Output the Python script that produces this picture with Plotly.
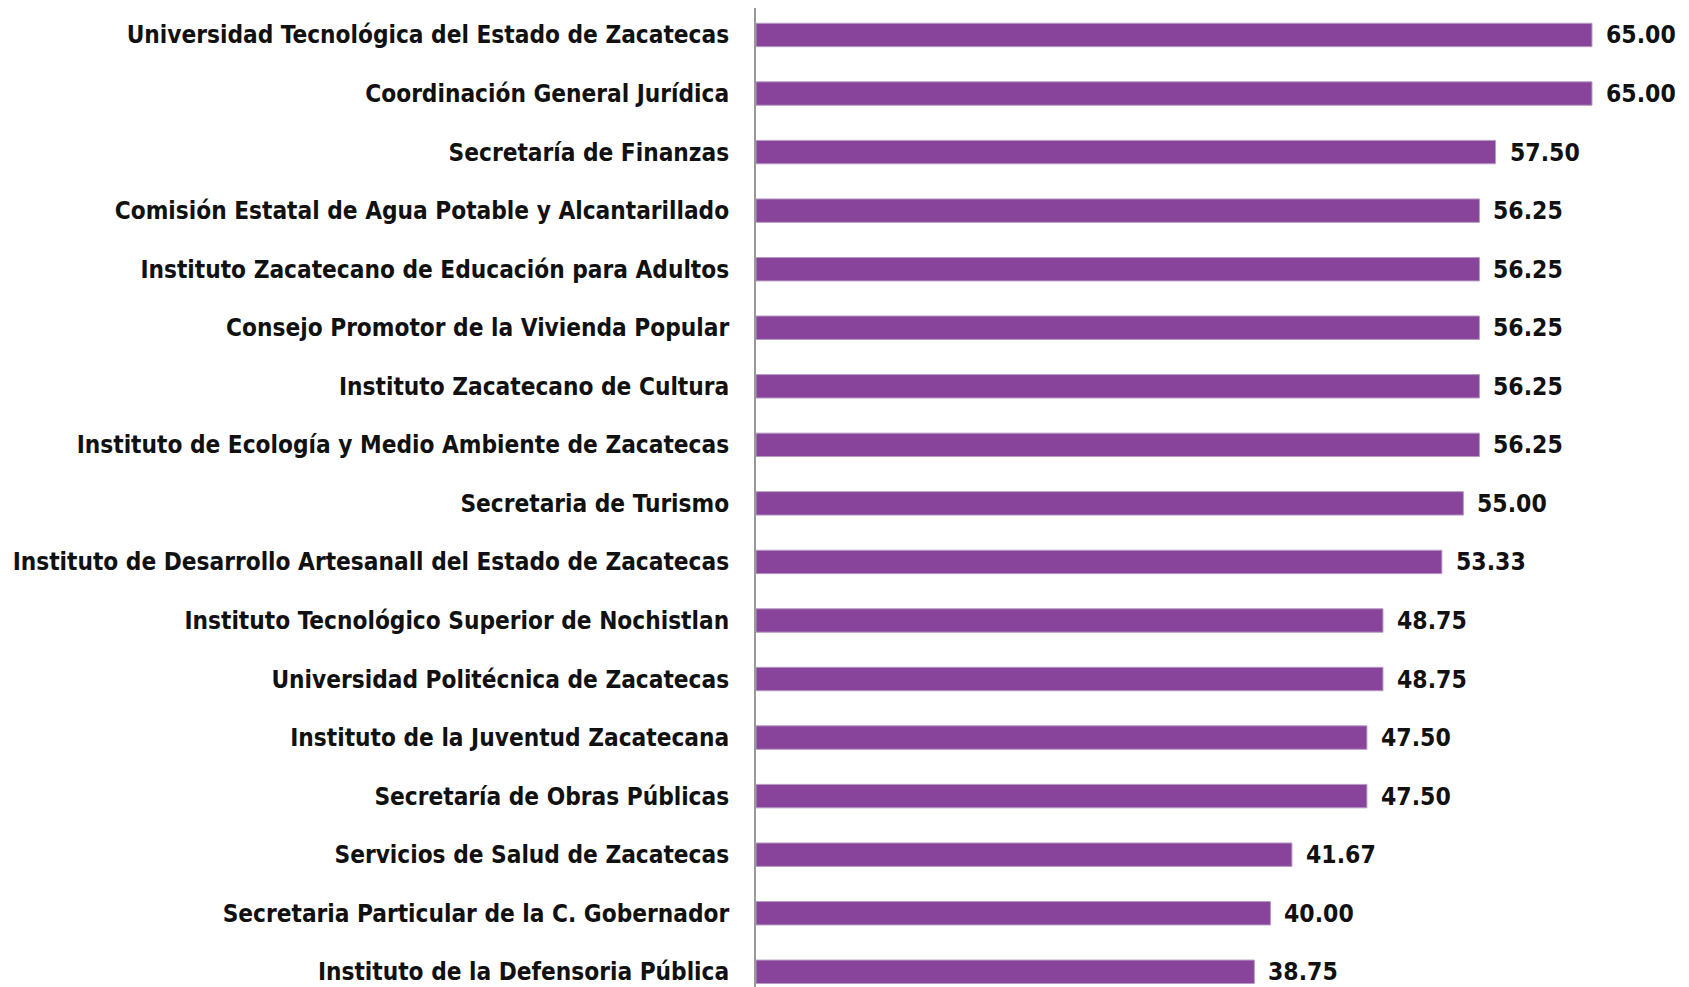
import plotly.graph_objects as go

categories = [
    "Universidad Tecnológica del Estado de Zacatecas",
    "Coordinación General Jurídica",
    "Secretaría de Finanzas",
    "Comisión Estatal de Agua Potable y Alcantarillado",
    "Instituto Zacatecano de Educación para Adultos",
    "Consejo Promotor de la Vivienda Popular",
    "Instituto Zacatecano de Cultura",
    "Instituto de Ecología y Medio Ambiente de Zacatecas",
    "Secretaria de Turismo",
    "Instituto de Desarrollo Artesanall del Estado de Zacatecas",
    "Instituto Tecnológico Superior de Nochistlan",
    "Universidad Politécnica de Zacatecas",
    "Instituto de la Juventud Zacatecana",
    "Secretaría de Obras Públicas",
    "Servicios de Salud de Zacatecas",
    "Secretaria Particular de la C. Gobernador",
    "Instituto de la Defensoria Pública",
]
values = [65.00, 65.00, 57.50, 56.25, 56.25, 56.25, 56.25, 56.25, 55.00,
          53.33, 48.75, 48.75, 47.50, 47.50, 41.67, 40.00, 38.75]

FONT = "DejaVu Sans Condensed"
BAR = "#87449A"
TXT = "#111111"

fig = go.Figure(go.Bar(
    x=values,
    y=categories,
    orientation="h",
    marker=dict(color=BAR, line=dict(color="#B69AC4", width=1)),
    width=0.4,
    hoverinfo="x+y",
))

for c, v in zip(categories, values):
    fig.add_annotation(
        x=v, y=c, xref="x", yref="y",
        text=f"{v:.2f}",
        showarrow=False,
        xanchor="left", yanchor="middle",
        xshift=12,
        font=dict(family=FONT, size=24.5, color=TXT, weight="bold"),
    )

fig.update_layout(
    width=1681,
    height=979,
    margin=dict(l=748, r=34, t=0, b=0),
    plot_bgcolor="white",
    paper_bgcolor="white",
    showlegend=False,
    xaxis=dict(range=[0, 69.9], visible=False, showgrid=False, zeroline=False),
    yaxis=dict(
        type="category",
        categoryorder="array",
        categoryarray=categories,
        range=[16.26, -0.461],
        showgrid=False,
        zeroline=False,
        showline=True,
        linecolor="#999999",
        linewidth=2,
        ticks="",
        ticklabelstandoff=20,
        tickfont=dict(family=FONT, size=24.2, color=TXT, weight="bold"),
    ),
)

fig.write_html("out.html")
